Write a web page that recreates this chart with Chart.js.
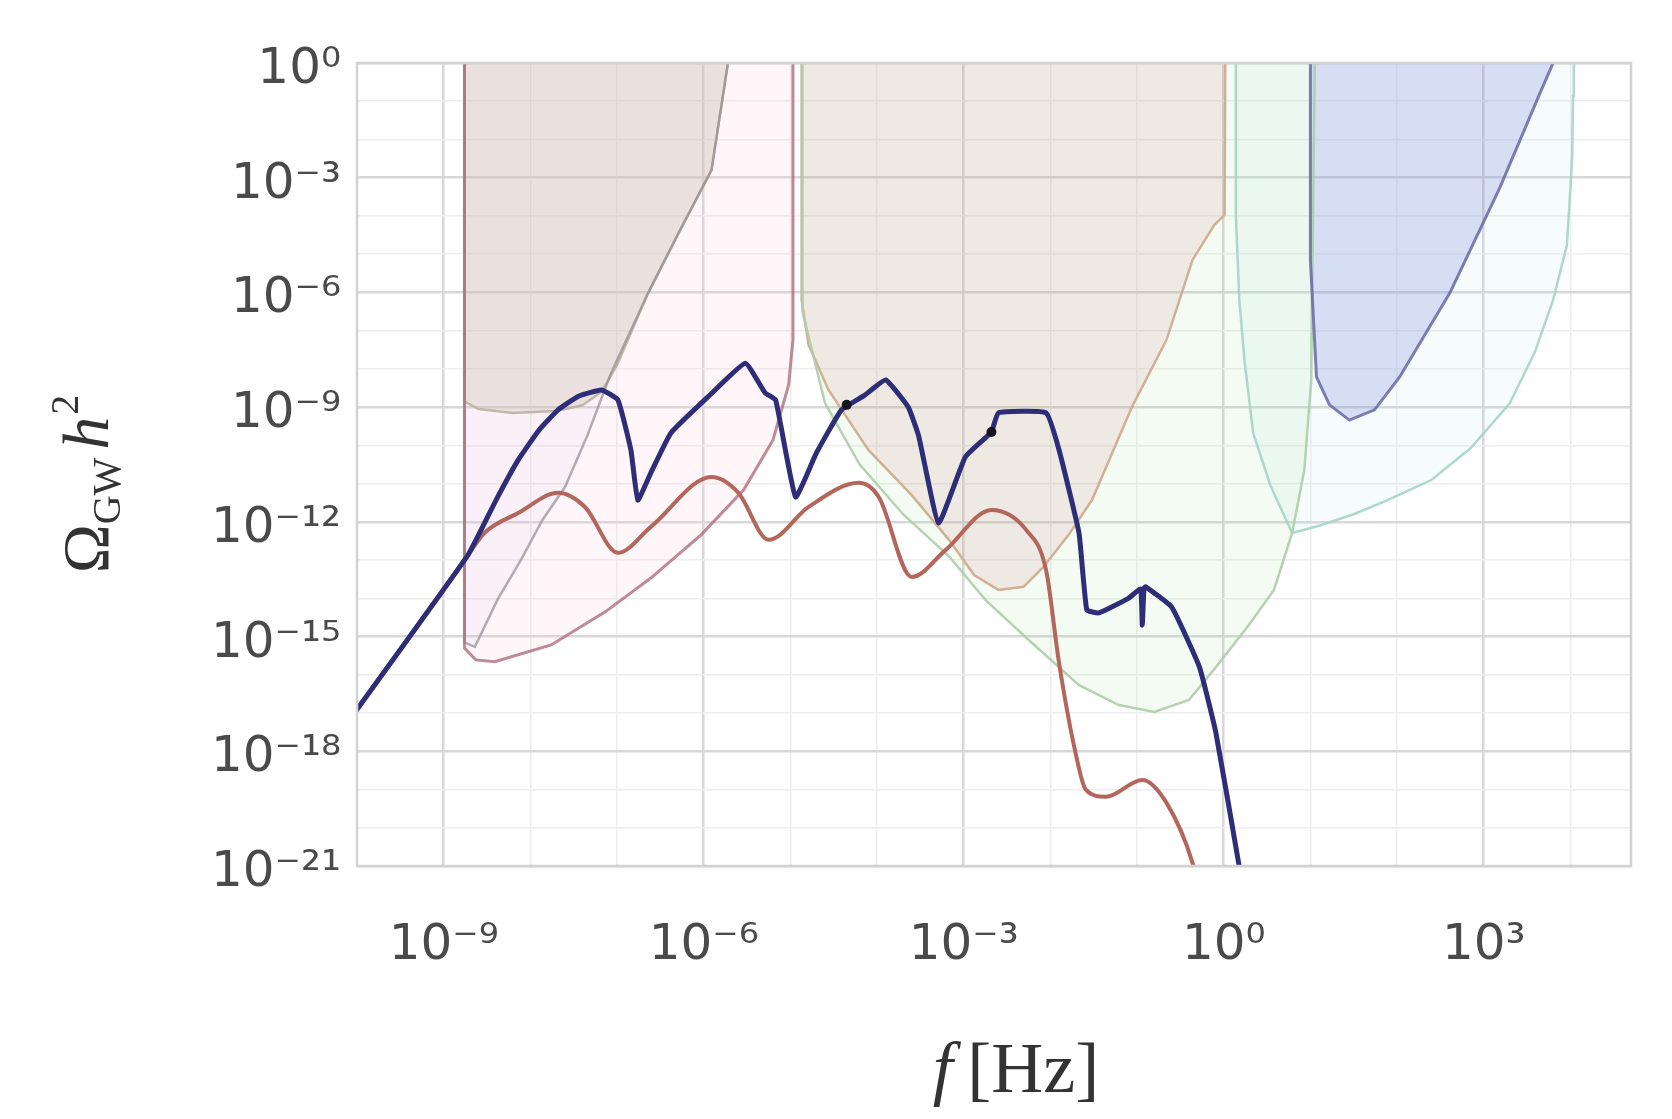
<!DOCTYPE html>
<html>
<head>
<meta charset="utf-8">
<script src="https://cdn.jsdelivr.net/npm/chart.js@4.4.0/dist/chart.umd.min.js"></script>
<style>
  html, body { margin: 0; padding: 0; background: #fff; }
  #wrap { width: 1672px; height: 1119px; }
</style>
</head>
<body>
<div id="wrap"><canvas id="c" width="1672" height="1119"></canvas></div>
<script>
// All curve values are log10 readings (log10 f, log10 Omega h^2).

// GW spectra
const blueLogF = [-10.10, -8.72, -8.40, -8.14, -7.90, -7.68, -7.45, -7.18, -6.99, -6.84, -6.76, -6.61, -6.38, -5.95, -5.52, -5.29, -5.17, -4.94, -4.70, -4.41, -4.15, -3.90, -3.64, -3.52, -3.29, -2.98, -2.68, -2.60, -2.05, -1.90, -1.67, -1.58, -1.44, -1.10, -0.96, -0.94, -0.92, -0.90, -0.60, -0.28, -0.09, 0.18, 0.25];
const blueLogOmega = [-17.22, -12.87, -11.45, -10.38, -9.60, -9.07, -8.72, -8.55, -8.81, -10.12, -11.43, -10.72, -9.68, -8.73, -7.85, -8.63, -8.81, -11.35, -10.20, -9.07, -8.70, -8.29, -9.00, -9.75, -12.03, -10.30, -9.65, -9.15, -9.15, -10.12, -12.29, -14.30, -14.38, -14.00, -13.76, -14.70, -13.74, -13.70, -14.23, -15.80, -17.52, -21.03, -22.00];

const redLogF = [-10.10, -8.72, -8.53, -8.14, -7.68, -7.37, -6.99, -6.61, -5.91, -5.60, -5.25, -4.79, -4.21, -3.98, -3.60, -3.21, -2.68, -2.28, -2.05, -1.90, -1.71, -1.59, -1.36, -0.94, -0.66, -0.36, -0.25];
const redLogOmega = [-17.22, -12.87, -12.29, -11.77, -11.24, -11.61, -12.81, -12.13, -10.83, -11.24, -12.47, -11.61, -10.98, -11.35, -13.44, -12.74, -11.69, -12.21, -13.26, -15.69, -18.04, -19.01, -19.19, -18.75, -19.35, -20.92, -22.00];

const markerLogF = [-4.35, -2.68];
const markerLogOmega = [-8.94, -9.65];

// Sensitivity regions
const ptaLogF = [-8.76, -8.76, -8.60, -8.20, -7.70, -7.40, -7.18, -7.00, -6.64, -6.29, -5.91, -5.72, -5.71];
const ptaLogOmega = [1, -8.85, -9.05, -9.15, -9.10, -8.95, -8.60, -7.90, -6.01, -4.45, -2.80, 0, 1];

const pta2LogF = [-8.76, -8.76, -8.64, -8.38, -8.11, -7.86, -7.60, -7.34, -7.07, -6.64, -6.29, -5.91, -5.72, -5.71];
const pta2LogOmega = [1, -15.15, -15.27, -14.04, -13.00, -11.95, -11.09, -9.73, -8.11, -6.01, -4.45, -2.80, 0, 1];

const skaLogF = [-8.76, -8.76, -8.63, -8.41, -7.76, -7.14, -6.61, -6.03, -5.54, -5.20, -5.02, -4.97, -4.97];
const skaLogOmega = [1, -15.30, -15.61, -15.66, -15.22, -14.36, -13.47, -12.34, -11.17, -9.86, -8.42, -7.24, 1];

const lisaLogF = [-4.87, -4.87, -4.79, -4.56, -4.10, -3.60, -3.17, -2.88, -2.60, -2.31, -2.08, -1.79, -1.52, -1.06, -0.66, -0.36, -0.11, 0.01, 0.02];
const lisaLogOmega = [1, -6.20, -7.37, -8.55, -10.12, -11.30, -12.47, -13.39, -13.78, -13.70, -13.18, -12.34, -11.43, -9.00, -7.24, -5.15, -4.24, -3.97, 1];

const decigoLogF = [-4.86, -4.86, -4.60, -4.20, -3.70, -3.17, -2.75, -2.25, -1.67, -1.21, -0.80, -0.40, -0.09, 0.29, 0.58, 0.79, 0.93, 1.01, 1.05, 1.05];
const decigoLogOmega = [1, -6.50, -8.90, -10.50, -11.80, -12.90, -14.04, -15.09, -16.27, -16.79, -16.97, -16.66, -15.80, -14.70, -13.78, -12.29, -10.64, -8.29, 0, 1];

const etLogF = [0.14, 0.14, 0.18, 0.24, 0.34, 0.54, 0.79, 1.10, 1.50, 1.87, 2.40, 2.85, 3.30, 3.59, 3.80, 3.96, 4.02, 4.03, 4.04];
const etLogOmega = [1, -4.00, -6.20, -7.79, -9.68, -11.06, -12.29, -12.10, -11.80, -11.45, -10.90, -10.07, -8.90, -7.56, -6.20, -4.76, -2.50, -0.86, 1];

const ligoLogF = [1.00, 1.00, 1.07, 1.22, 1.45, 1.74, 2.03, 2.61, 3.19, 3.65, 3.80, 3.85];
const ligoLogOmega = [1, -5.15, -8.21, -8.94, -9.34, -9.07, -8.21, -6.01, -3.24, -0.78, 0, 1];

// Axes
const xGridExponents = [-10, -9, -8, -7, -6, -5, -4, -3, -2, -1, 0, 1, 2, 3, 4];
const xLabelExponents = [-9, -6, -3, 0, 3];
const yGridExponents = [-21, -20, -19, -18, -17, -16, -15, -14, -13, -12, -11, -10, -9, -8, -7, -6, -5, -4, -3, -2, -1, 0];
const yLabelExponents = [-21, -18, -15, -12, -9, -6, -3, 0];
const xMin = 1e-10, xMax = 5.0e4;
const yMin = 1e-21, yMax = 1;

const pts = (fs, os) => fs.map((f, i) => ({ x: Math.pow(10, f), y: Math.pow(10, os[i]) }));
const SUP = { '0': '\u2070', '1': '\u00B9', '2': '\u00B2', '3': '\u00B3', '4': '\u2074', '5': '\u2075', '6': '\u2076', '7': '\u2077', '8': '\u2078', '9': '\u2079', '-': '\u207B' };
const pow10Label = (e) => '10' + String(e).split('').map((ch) => SUP[ch]).join('');
const expOf = (v) => Math.round(Math.log10(v));

function region(label, fs, os, line, fillColor, width) {
  return {
    label, data: pts(fs, os), showLine: true, pointRadius: 0,
    borderColor: line, borderWidth: width, backgroundColor: fillColor, fill: 'shape', clip: 0,
  };
}

// frame around the plot area
const frame = {
  id: 'frame',
  afterDatasetsDraw(chart) {
    const { ctx, chartArea: a } = chart;
    ctx.save();
    ctx.strokeStyle = '#d2d2d2';
    ctx.lineWidth = 2.5;
    ctx.strokeRect(a.left, a.top, a.right - a.left, a.bottom - a.top);
    ctx.restore();
  },
};

// axis titles with sub/superscripts
const axisTitles = {
  id: 'axisTitles',
  afterDraw(chart) {
    const { ctx } = chart;
    ctx.save();
    ctx.fillStyle = '#333';
    ctx.textBaseline = 'alphabetic';

    const xf = '72px "Liberation Serif"';
    ctx.font = 'italic ' + xf;
    const wf = ctx.measureText('f').width;
    ctx.font = xf;
    const wr = ctx.measureText('\u2009[Hz]').width;
    const x0 = 1016 - (wf + wr) / 2;
    ctx.font = 'italic ' + xf;
    ctx.fillText('f', x0, 1092);
    ctx.font = xf;
    ctx.fillText('\u2009[Hz]', x0 + wf, 1092);

    const parts = [
      { t: '\u03A9', font: '66px "Liberation Serif"', dy: 0, gap: 0 },
      { t: 'GW', font: '40px "Liberation Serif"', dy: 12, gap: 8 },
      { t: 'h', font: 'italic 66px "Liberation Serif"', dy: 0, gap: 2 },
      { t: '2', font: '40px "Liberation Serif"', dy: -30, gap: 0 },
    ];
    let total = 0;
    parts.forEach((p) => { ctx.font = p.font; p.w = ctx.measureText(p.t).width; total += p.w + p.gap; });
    ctx.translate(108, 484);
    ctx.rotate(-Math.PI / 2);
    let cx = -total / 2;
    parts.forEach((p) => {
      ctx.font = p.font;
      ctx.fillText(p.t, cx, p.dy);
      cx += p.w + p.gap;
    });
    ctx.restore();
  },
};

const gridColor = (labels) => (c) =>
  c.tick && labels.includes(expOf(c.tick.value)) ? '#d8d8d8' : '#eeeeee';
const gridWidth = (labels) => (c) =>
  c.tick && labels.includes(expOf(c.tick.value)) ? 2.5 : 1.5;

new Chart(document.getElementById('c'), {
  type: 'scatter',
  data: {
    datasets: [
      { label: 'markers', data: pts(markerLogF, markerLogOmega), pointRadius: 5, pointBackgroundColor: '#151520', pointBorderWidth: 0, showLine: false },
      { label: 'spectrum A', data: pts(blueLogF, blueLogOmega), showLine: true, pointRadius: 0, borderColor: '#2e2e78', borderWidth: 5,
        tension: 0.12, fill: false, clip: 0 },
      { label: 'spectrum B', data: pts(redLogF, redLogOmega), showLine: true, pointRadius: 0, borderColor: '#b3665c', borderWidth: 4,
        cubicInterpolationMode: 'monotone', fill: false, clip: 0 },
      region('LIGO', ligoLogF, ligoLogOmega, 'rgba(105,105,165,0.85)', 'rgba(120,130,225,0.25)', 3),
      region('ET', etLogF, etLogOmega, 'rgba(165,212,198,0.9)', 'rgba(180,230,225,0.12)', 2.5),
      region('DECIGO', decigoLogF, decigoLogOmega, 'rgba(175,205,170,0.9)', 'rgba(160,220,160,0.12)', 2.5),
      region('LISA', lisaLogF, lisaLogOmega, 'rgba(205,170,140,0.9)', 'rgba(228,150,160,0.2)', 2.5),
      region('SKA', skaLogF, skaLogOmega, 'rgba(175,110,125,0.8)', 'rgba(250,200,215,0.16)', 3),
      region('PTA 2', pta2LogF, pta2LogOmega, 'rgba(150,140,145,0.7)', 'rgba(210,195,235,0.10)', 2.5),
      region('PTA', ptaLogF, ptaLogOmega, 'rgba(185,175,160,0.85)', 'rgba(185,185,150,0.30)', 2.5),
    ],
  },
  options: {
    responsive: false,
    devicePixelRatio: 1,
    animation: false,
    layout: { padding: { top: 63, right: 41, left: 0, bottom: 0 } },
    plugins: {
      legend: { display: false },
      tooltip: { enabled: false },
      filler: { drawTime: 'beforeDatasetsDraw' },
    },
    scales: {
      x: {
        type: 'logarithmic', min: xMin, max: xMax,
        afterBuildTicks: (s) => { s.ticks = xGridExponents.map((e) => ({ value: Math.pow(10, e) })); },
        afterFit: (s) => { s.height = 253; },
        border: { display: false },
        grid: { color: gridColor(xLabelExponents), lineWidth: gridWidth(xLabelExponents), drawTicks: false },
        ticks: {
          autoSkip: false, maxRotation: 0, padding: 50, color: '#4a4a4a',
          font: { family: 'DejaVu Sans', size: 50 },
          callback: (v) => (xLabelExponents.includes(expOf(v)) ? pow10Label(expOf(v)) : ''),
        },
      },
      y: {
        type: 'logarithmic', min: yMin, max: yMax,
        afterBuildTicks: (s) => { s.ticks = yGridExponents.map((e) => ({ value: Math.pow(10, e) })); },
        afterFit: (s) => { s.width = 357; },
        border: { display: false },
        grid: { color: gridColor(yLabelExponents), lineWidth: gridWidth(yLabelExponents), drawTicks: false },
        ticks: {
          autoSkip: false, padding: 16, labelOffset: 7, color: '#4a4a4a',
          font: { family: 'DejaVu Sans', size: 50 },
          callback: (v) => (yLabelExponents.includes(expOf(v)) ? pow10Label(expOf(v)) : ''),
        },
      },
    },
  },
  plugins: [frame, axisTitles],
});
</script>
</body>
</html>
